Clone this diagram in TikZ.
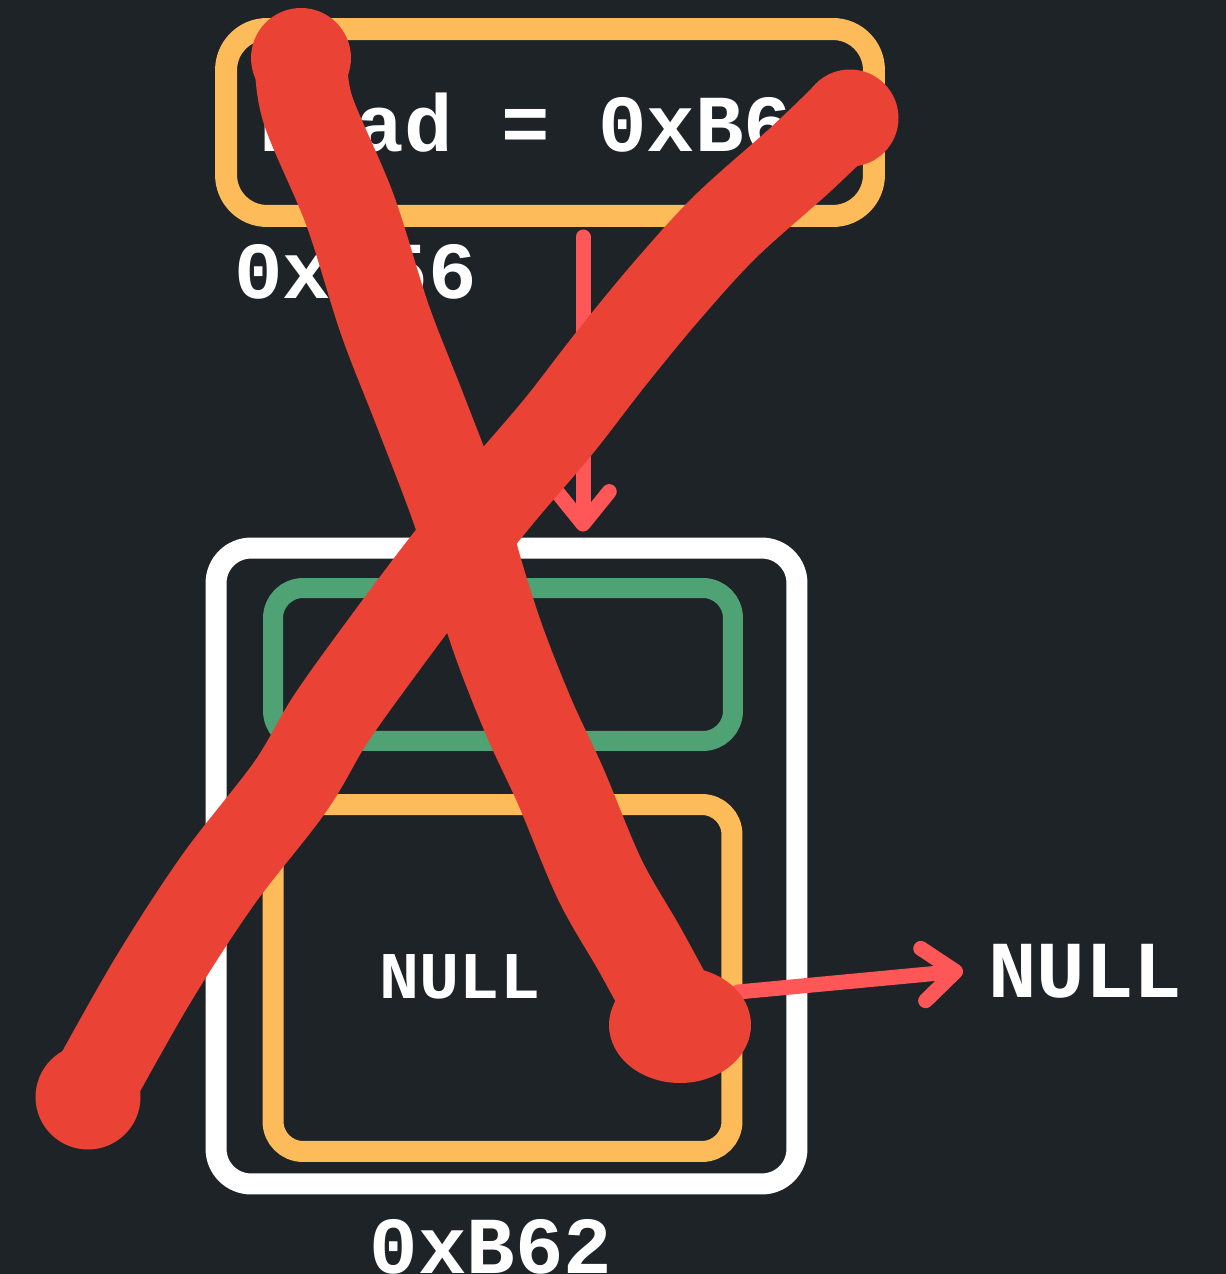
\documentclass[tikz,border=0pt]{standalone}
\usepackage{fontspec}
\setmonofont{Liberation Mono}
\usetikzlibrary{arrows.meta}
\definecolor{bg}{HTML}{1E2328}
\definecolor{boxorange}{HTML}{FDBB59}
\definecolor{boxgreen}{HTML}{4FA274}
\definecolor{ptrred}{HTML}{FF5757}
\definecolor{crossred}{HTML}{EA4335}

\begin{document}
\begin{tikzpicture}[x=0.02cm, y=-0.02cm,
		cell/.style={draw, rectangle, inner sep=0pt, fill=bg},
		code/.style={text=white, inner sep=0pt, font=\ttfamily\bfseries\fontsize{46}{50}\selectfont},
		small code/.style={code, font=\ttfamily\bfseries\fontsize{38}{42}\selectfont},
		ptr/.style={draw=ptrred, line width=0.3cm, line cap=round, -{Straight Barb[round, length=0.65cm, width=1.05cm]}},
		cross/.style={draw=crossred, line width=1.85cm, line cap=round, line join=round}]
	\fill[bg] (0,0) rectangle (1226,1274);
	\useasboundingbox (0,0) rectangle (1226,1274);

	% head pointer
	\node[cell, code, draw=boxorange, line width=0.44cm, rounded corners=0.82cm, minimum width=12.96cm, minimum height=3.74cm] (head) at (550,122.5) {head = 0xB62};
	\node[code, anchor=base west] (headaddr) at (234,298) {0x356};

	% list node
	\node[cell, draw=white, line width=0.42cm, rounded corners=0.7cm, minimum width=11.62cm, minimum height=12.72cm] (lnode) at (506.5,866) {};
	\node[cell, draw=boxgreen, line width=0.4cm, rounded corners=0.6cm, minimum width=9.2cm, minimum height=3.06cm] (data) at (503,664.5) {};
	\node[cell, draw=boxorange, line width=0.42cm, rounded corners=0.6cm, minimum width=9.18cm, minimum height=6.94cm] (next) at (502.5,978) {};
	\node[small code, anchor=base] (nextval) at (460,998) {NULL};
	\node[code, anchor=base] (nodeaddr) at (491,1273) {0xB62};
	\node[code, anchor=base west] (nullout) at (988,997) {NULL};

	\coordinate (hp) at (583,237);
	\coordinate (np) at (738,992);
	\draw[ptr] (hp) -- ([yshift=0.12cm]hp |- lnode.north);
	\draw[ptr] (np) -- ([xshift=-0.5cm]nullout.west);

	% the cross
	\draw[cross] plot[smooth, tension=0.55] coordinates {(301,60) (308,110) (350,210) (385,320) (420,410) (458,510) (482,590) (502,650) (530,720) (561,787) (600,880) (640,950) (678,1020)};
	\draw[cross, line width=1.75cm] plot[smooth, tension=0.55] coordinates {(848,114) (800,160) (725,227) (665,293) (610,360) (558,427) (500,495) (440,570) (380,650) (330,720) (290,787) (218,880) (153,980) (92,1088)};
	\fill[crossred] (301,58) circle[radius=1cm];
	\fill[crossred] (680,1025) ellipse[x radius=1.42cm, y radius=1.16cm];
	\fill[crossred] (850,118) circle[radius=0.97cm];
	\fill[crossred] (88,1097) circle[radius=1.05cm];
\end{tikzpicture}
\end{document}
